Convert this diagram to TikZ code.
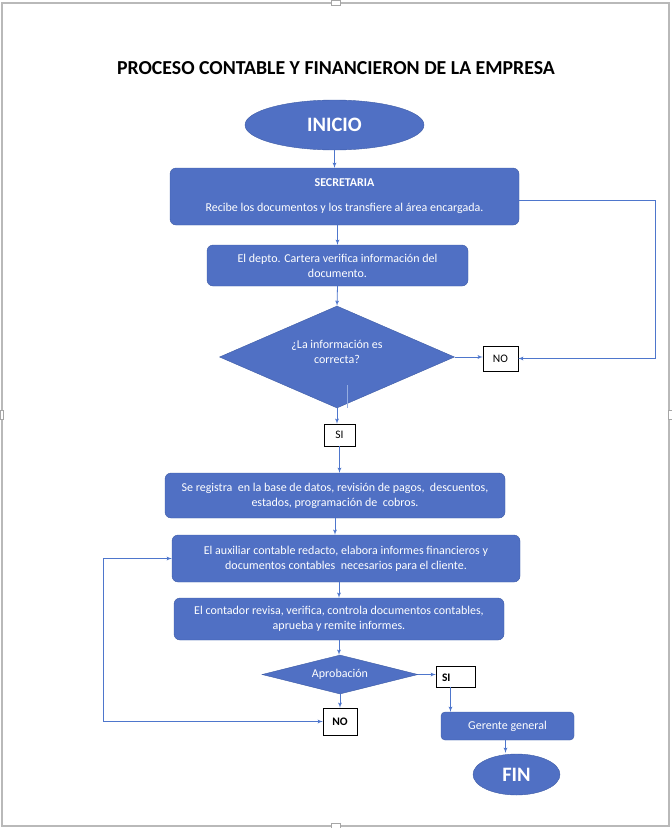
\documentclass[tikz,border=0pt]{standalone}
\usepackage{fontspec}
\setmainfont{Carlito}
\usepackage{tikz}
\usetikzlibrary{arrows}
\usetikzlibrary{shapes.geometric}
\definecolor{boxblue}{RGB}{80,112,196}
\definecolor{boxedge}{RGB}{62,92,165}
\definecolor{linkblue}{RGB}{78,118,204}
\tikzstyle{block} = [draw=boxedge,fill=boxblue,rounded corners=6pt,text=white,align=center,inner sep=0pt,font=\fontsize{12}{15}\selectfont]
\tikzstyle{term} = [ellipse,draw=boxedge,fill=boxblue,text=white,inner sep=0pt,font=\fontsize{20.5}{24}\selectfont\bfseries]
\tikzstyle{decision} = [diamond,draw=boxedge,fill=boxblue,text=white,inner sep=0pt,align=center,font=\fontsize{12}{15}\selectfont]
\tikzstyle{tag} = [draw=black,fill=white,inner sep=0pt,font=\fontsize{11.5}{13}\selectfont]
\tikzstyle{link} = [draw=linkblue,line width=0.8pt]

\begin{document}
\begin{tikzpicture}[>=latex',x=1pt,y=-1pt]

    \useasboundingbox (0,0) rectangle (672,828);

% Page frame and handles

    \draw[gray!55,line width=1.2pt] (2,3) rectangle (669,826);
    \draw[gray!70,fill=white] (331,0) rectangle (340,5);
    \draw[gray!70,fill=white] (331,823) rectangle (340,828);
    \draw[gray!70,fill=white] (0,410) rectangle (3,419);
    \draw[gray!70,fill=white] (668,410) rectangle (672,419);

% Title, start and first steps

    \node[font=\fontsize{19.8}{23}\selectfont\bfseries] at (336,68) (title) {PROCESO CONTABLE Y FINANCIERON DE LA EMPRESA};
    \node[term,minimum width=179,minimum height=50] at (334.5,125) (inicio) {INICIO};
    \node[block,minimum width=349,minimum height=57] at (344.5,196.5) (sec)
        {{\bfseries SECRETARIA}\\[10pt]Recibe los documentos y los transfiere al área encargada.};
    \node[block,minimum width=261,minimum height=41] at (337.5,265.5) (depto)
        {El depto. Cartera verifica información del\\documento.};
    \node[decision,aspect=2.3,minimum width=235,minimum height=102] at (337,357) (info)
        {¿La información es\\correcta?\\[-5pt]\mbox{}};
    \node[tag,minimum width=35,minimum height=25] at (500.5,358.5) (no1) {NO};
    \node[tag,minimum width=31,minimum height=22] at (339.5,435) (si1) {SI};

    \draw[link,->] (inicio.south) -- (inicio.south |- sec.north);
    \draw[link,->] (sec.south -| depto.north) -- (depto.north);
    \draw[link,->] (depto.south) -- (info.north);
    \draw[link,->] (info.east) -- (info.east -| no1.west);
    \draw[link,->] ([yshift=-4]sec.east) -- (655,200.5) |- (no1.east);
    \draw[link,->] (info.south) -- (info.south |- si1.north);
    \coordinate (stray1) at (347,385);
    \coordinate (stray2) at (347,408);
    \draw[link,draw=linkblue!60] (stray1) -- (stray2);

% Accounting steps

    \node[block,minimum width=340,minimum height=45] at (335,495.5) (registro)
        {Se registra\ \ en la base de datos, revisión de pagos,\ \ descuentos,\\estados, programación de\ \ cobros.};
    \node[block,minimum width=348,minimum height=47] at (346,558.5) (auxiliar)
        {El auxiliar contable redacto, elabora informes financieros y\\documentos contables\ \ necesarios para el cliente.};
    \node[block,minimum width=330,minimum height=42] at (339,619) (contador)
        {El contador revisa, verifica, controla documentos contables,\\aprueba y remite informes.};

    \draw[link,->] (si1.south) -- (si1.south |- registro.north);
    \draw[link,->] (registro.south) -- (registro.south |- auxiliar.north);
    \draw[link,->] (auxiliar.south -| contador.north) -- (contador.north);

% Approval and end

    \node[decision,aspect=4,minimum width=156,minimum height=39] at (340,674.5) (aprob) {Aprobación};
    \node[tag,minimum width=39,minimum height=21,text width=31,text height=12,text depth=2,align=left,font=\fontsize{11.5}{13}\selectfont\bfseries] at (455.5,676.5) (si2) {\hspace{2pt}SI};
    \node[tag,minimum width=34,minimum height=27,font=\fontsize{11.5}{13}\selectfont\bfseries] at (340,721.5) (no2) {NO};
    \node[block,minimum width=133,minimum height=28,rounded corners=4pt] at (507.5,726) (gerente) {Gerente general};
    \node[term,minimum width=87,minimum height=41] at (516.5,774.5) (fin) {FIN};

    \draw[link,->] (contador.south) -- (contador.south |- aprob.north);
    \draw[link,->] (aprob.east) -- (aprob.east -| si2.west);
    \draw[link,->] (aprob.south) -- (no2.north);
    \draw[link,<->] (auxiliar.west) -- (103,558.5) |- (no2.west);
    \draw[link,->] ([xshift=-5]si2.south) -- ([xshift=-5]si2.south |- gerente.north);
    \draw[link,->] ([xshift=-2]gerente.south) -- ([xshift=-2,yshift=1]gerente.south |- fin.north);

\end{tikzpicture}
\end{document}
